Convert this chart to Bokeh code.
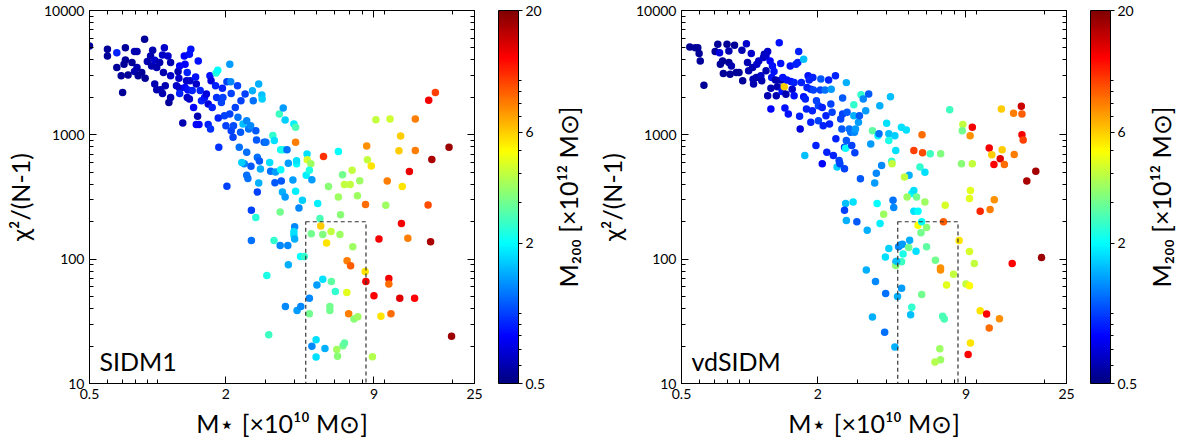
import math
from bokeh.plotting import figure
from bokeh.models import (ColumnDataSource, LogColorMapper, ColorBar, FixedTicker, LogAxis,
                          CustomJSTickFormatter, CustomLabelingPolicy, Label, Range1d)
from bokeh.layouts import row
from bokeh.embed import file_html
from bokeh.resources import INLINE

# ---------------- data ----------------
x_ticks = [0.5, 2, 9, 25]
x_minor = [0.6, 0.7, 0.8, 0.9, 1, 3, 4, 5, 6, 7, 8, 10, 20]
y_ticks = [10, 100, 1000, 10000]
y_minor = [20, 30, 40, 50, 60, 70, 80, 90, 200, 300, 400, 500, 600, 700, 800, 900,
           2000, 3000, 4000, 5000, 6000, 7000, 8000, 9000]
cb_ticks = [0.5, 2, 6, 20]
cb_minor = [0.6, 0.7, 0.8, 0.9, 1, 3, 4, 5, 7, 8, 9, 10]
box_x = [4.5, 8.3]
box_y = [10, 200]

sidm1_mstar = [0.50, 0.60, 0.60, 0.66, 0.66, 0.72, 0.72, 0.71, 0.69, 0.70, 0.77, 0.79, 0.81, 0.74, 0.79,
               0.81, 0.82, 0.875, 0.85, 0.88, 0.90, 0.93, 0.95, 0.94, 0.97, 0.97, 0.99, 0.99, 1.03, 1.02,
               1.05, 1.07, 1.06, 1.08, 1.05, 1.11, 1.12, 1.14, 1.14, 1.14, 1.21, 1.23, 1.25, 1.24, 1.25,
               1.25, 1.29, 1.31, 1.32, 1.35, 1.34, 1.32, 1.35, 1.36, 1.38, 1.40, 1.39, 1.38, 1.42, 1.44,
               1.47, 1.48, 1.51, 1.50, 1.48, 1.52, 1.54, 1.56, 1.61, 1.64, 1.67, 1.67, 1.71, 1.70, 1.72,
               1.74, 1.80, 1.81, 1.84, 1.82, 1.85, 1.86, 1.91, 1.93, 1.94, 1.97, 2.00, 2.02, 2.02, 2.08,
               2.10, 2.11, 2.08, 2.11, 2.15, 2.20, 2.16, 2.25, 2.26, 2.32, 2.29, 2.33, 2.38, 2.43, 2.47,
               2.47, 2.52, 2.57, 2.41, 2.35, 2.47, 2.50, 2.58, 2.62, 2.64, 2.71, 2.73, 2.75, 2.75, 2.59,
               2.59, 2.71, 2.79, 2.81, 2.84, 2.79, 2.88, 2.89, 2.95, 3.00, 3.12, 3.15, 3.22, 3.27, 3.29,
               3.31, 3.03, 3.09, 3.26, 3.47, 3.44, 3.49, 3.49, 3.58, 3.51, 3.55, 3.58, 3.65, 3.65, 3.72,
               3.77, 3.75, 3.47, 3.66, 3.77, 3.99, 4.06, 4.06, 3.95, 4.06, 4.10, 4.10, 3.99, 4.02, 3.99,
               4.02, 4.20, 4.27, 4.35, 4.43, 4.12, 4.28, 4.56, 4.57, 4.74, 4.52, 4.67, 4.67, 4.79, 4.76,
               4.67, 4.79, 5.08, 5.20, 5.24, 5.35, 5.39, 5.04, 5.35, 5.00, 5.00, 5.47, 5.56, 5.67, 5.82,
               5.84, 5.75, 5.75, 6.08, 6.27, 6.27, 6.37, 6.41, 6.54, 6.17, 6.22, 6.57, 6.67, 6.67, 6.83,
               6.85, 6.96, 7.07, 7.10, 7.21, 7.26, 7.35, 7.61, 7.64, 7.79, 8.23, 8.26, 8.29, 8.36, 8.42,
               8.76, 8.86, 9.00, 9.47, 9.18, 9.66, 10.15, 10.3, 10.47, 10.47, 10.6, 10.7, 11.6, 11.8, 11.9,
               11.7, 12.0, 12.7, 12.9, 13.7, 13.7, 13.6, 15.6, 15.7, 16.2, 16.0, 16.8, 19.3, 19.8]
sidm1_chi2 = [5180, 4870, 4300, 4580, 3475, 5020, 4000, 3700, 2980, 2190, 3810, 4670, 4670, 3030, 3230,
              3475, 2980, 5870, 3170, 2850, 3880, 4300, 4790, 3580, 3980, 2560, 3475, 2300, 2300, 3810,
              4380, 5020, 3170, 2480, 2150, 4300, 1820, 3810, 2000, 2980, 2480, 3230, 3580, 2850, 2370,
              2150, 1245, 4300, 3700, 3170, 2720, 2400, 2000, 2290, 4450, 4870, 2720, 1940, 2270, 1660,
              2920, 2560, 3930, 1410, 1210, 1210, 2270, 1880, 2000, 2130, 1770, 1210, 1115, 2980, 2720,
              1660, 2480, 3150, 3300, 2000, 1365, 795, 1820, 2370, 2000, 1425, 1185, 2670, 385, 3700,
              2670, 2150, 1470, 1080, 955, 1660, 1185, 2480, 1385, 1050, 795, 1880, 1220, 2130, 1300,
              725, 1115, 1185, 585, 600, 472, 445, 560, 2260, 1880, 1080, 910, 660, 347, 247,
              141, 216, 2560, 615, 532, 410, 2090, 1940, 870, 870, 600, 510, 990, 900, 412,
              502, 74, 24.7, 141, 240, 1470, 525, 757, 760, 425, 347, 1640, 1315, 316, 760,
              590, 129, 129, 41.7, 90, 1220, 1150, 870, 433, 352, 585, 620, 156, 182, 166,
              145, 258, 105, 298, 105, 38.6, 41.7, 701, 630, 585, 472, 518, 48.5, 436, 160,
              36.4, 19.9, 280, 212, 185, 158, 670, 62, 69, 22.5, 16.3, 19.1, 135, 384, 167,
              66, 41.7, 38.6, 55, 735, 316, 158, 228, 478, 18.8, 16.6, 20.1, 21.2, 399, 54,
              97, 36.4, 399, 88.7, 518, 126, 33, 324, 34.4, 428, 79.4, 275, 66, 815, 630,
              562, 16.4, 50.7, 145, 1325, 34.7, 271, 425, 70, 63, 1340, 36.4, 743, 980, 194,
              48.5, 384, 147, 508, 1340, 748, 48.5, 273, 1900, 634, 138, 2190, 795, 24]
sidm1_m200 = [0.55, 0.55, 0.55, 0.9, 0.55, 0.55, 0.55, 0.55, 0.55, 0.55, 0.55, 0.6, 0.6, 0.55, 0.6,
              0.6, 0.55, 0.55, 0.55, 0.55, 0.6, 0.6, 0.6, 0.6, 0.65, 0.6, 0.6, 0.6, 0.6, 0.6,
              0.65, 0.65, 0.6, 0.6, 0.6, 0.65, 0.55, 0.6, 0.6, 0.65, 0.65, 0.6, 0.8, 0.65, 0.65,
              0.9, 0.6, 0.8, 0.8, 0.9, 0.65, 0.8, 0.65, 0.85, 0.85, 0.85, 0.65, 0.65, 0.9, 0.8,
              0.85, 0.65, 0.85, 0.6, 0.8, 0.8, 0.9, 0.9, 0.85, 0.7, 0.7, 0.9, 0.95, 0.85, 0.7,
              0.9, 0.9, 2.3, 2.0, 0.95, 0.9, 0.95, 1.0, 0.9, 1.0, 1.0, 1.0, 1.0, 1.0, 1.4,
              1.3, 1.0, 1.0, 1.0, 1.0, 1.0, 1.05, 1.0, 1.2, 1.1, 1.2, 1.0, 1.6, 1.0, 1.3,
              1.2, 1.2, 1.3, 1.3, 1.7, 1.2, 1.2, 1.1, 1.5, 1.2, 1.1, 1.1, 1.2, 1.0, 1.0,
              1.2, 2.3, 1.5, 1.1, 1.5, 1.5, 1.6, 1.7, 1.1, 1.2, 1.8, 1.2, 2.4, 1.8, 1.1,
              1.4, 2.2, 2.5, 2.4, 3.0, 2.5, 2.0, 2.1, 2.2, 1.1, 1.5, 1.4, 1.7, 1.4, 1.2,
              1.4, 1.3, 1.3, 1.3, 1.5, 1.9, 2.6, 8.0, 1.4, 1.9, 2.0, 1.8, 1.8, 1.3, 1.8,
              1.5, 1.3, 2.0, 1.7, 2.4, 1.4, 1.3, 1.8, 4.3, 3.5, 1.9, 2.2, 1.3, 1.4, 3.0,
              3.0, 1.3, 1.9, 2.6, 6.0, 3.2, 10.5, 1.4, 1.8, 1.8, 1.8, 1.5, 5.5, 3.3, 4.0,
              2.8, 3.0, 3.0, 2.4, 2.0, 3.5, 3.5, 3.3, 3.0, 3.6, 3.3, 3.0, 2.8, 4.0, 4.5,
              8.0, 8.0, 4.0, 9.0, 4.0, 3.5, 3.3, 3.5, 3.5, 3.5, 5.5, 8.5, 13.0, 7.5, 4.0,
              5.5, 3.8, 12.5, 13.0, 4.0, 5.5, 3.5, 8.0, 13.0, 8.5, 4.2, 8.5, 6.0, 6.0, 13.0,
              14.0, 5.5, 8.0, 13.5, 8.0, 8.0, 12.5, 9.5, 13.0, 17.0, 17.0, 10.0, 18.0, 18.0]

vd_mstar = [0.544, 0.575, 0.59, 0.598, 0.605, 0.628, 0.704, 0.723, 0.736, 0.742, 0.759, 0.765, 0.794, 0.809,
            0.809, 0.819, 0.83, 0.857, 0.873, 0.897, 0.924, 0.931, 0.967, 0.978, 0.989, 1.016, 1.03, 1.035,
            1.04, 1.07, 1.075, 1.096, 1.12, 1.13, 1.15, 1.16, 1.18, 1.18, 1.20, 1.20, 1.23, 1.24, 1.24,
            1.25, 1.26, 1.28, 1.30, 1.31, 1.325, 1.35, 1.37, 1.375, 1.39, 1.40, 1.42, 1.43, 1.445, 1.46,
            1.48, 1.51, 1.52, 1.54, 1.57, 1.57, 1.60, 1.645, 1.63, 1.66, 1.67, 1.69, 1.73, 1.73, 1.75,
            1.76, 1.78, 1.79, 1.81, 1.83, 1.86, 1.86, 1.89, 1.90, 1.91, 1.96, 1.97, 2.01, 2.01, 2.05,
            2.06, 2.09, 2.09, 2.11, 2.15, 2.17, 2.19, 2.23, 2.25, 2.28, 2.29, 2.31, 2.34, 2.39, 2.40,
            2.43, 2.48, 2.50, 2.52, 2.55, 2.57, 2.57, 2.62, 2.62, 2.65, 2.67, 2.67, 2.69, 2.75, 2.79,
            2.82, 2.88, 2.88, 2.91, 2.90, 2.93, 3.02, 3.05, 3.08, 3.10, 3.17, 3.25, 3.35, 3.42, 3.48,
            3.62, 3.56, 3.68, 3.72, 3.75, 3.82, 4.02, 4.11, 4.11, 4.18, 4.23, 4.25, 4.37, 4.41, 4.67,
            4.91, 5.05, 4.82, 5.30, 5.76, 5.79, 6.26, 6.96, 5.64, 5.93, 7.63, 8.6, 8.72, 8.67, 9.39,
            9.6, 9.6, 11.4, 11.7, 11.96, 12.75, 13.0, 13.3, 12.9, 14.6, 14.7, 15.8, 15.9, 15.9, 16.1,
            16.7, 18.3, 19.4, 14.4, 2.65, 2.62, 2.67, 2.97, 2.86, 3.30, 3.65, 3.76, 3.90, 4.29, 4.32,
            4.54, 4.63, 4.72, 4.11, 3.97, 4.75, 5.03, 4.42, 4.68, 4.41, 5.19, 5.30, 5.45, 4.95, 5.08,
            5.30, 5.53, 5.53, 5.74, 5.70, 6.03, 5.93, 6.03, 5.42, 7.16, 7.29, 8.4, 9.42, 9.33, 10.4,
            11.5, 12.0, 6.6, 6.95, 6.95, 7.93, 7.39, 9.0, 9.33, 9.33, 9.8, 5.74, 5.19, 5.13, 7.1,
            7.22, 10.4, 11.1, 11.4, 12.65, 9.42, 9.2, 6.9, 6.95, 6.57, 4.68, 4.49, 4.45, 3.59, 3.98,
            3.27, 3.48, 3.94, 4.37]
vd_chi2 = [5080, 5020, 5020, 4500, 3930, 2510, 4670, 5350, 4580, 3700, 3930, 3110, 5350, 4720,
           3810, 3070, 3580, 5250, 3170, 3170, 4790, 2720, 5410, 3810, 3270, 4500, 3475, 2800,
           2560, 2890, 3700, 3930, 2980, 2720, 4180, 4450, 4300, 3270, 4670, 2060, 3930, 2370, 1610,
           2890, 3580, 3230, 2760, 2060, 2440, 5510, 3740, 2760, 2230, 2890, 2440, 1640, 2120, 2760,
           1470, 3580, 2690, 2330, 2630, 2060, 3700, 4670, 3810, 1410, 1115, 2630, 4060, 2020, 682,
           1940, 1610, 2400, 2980, 2760, 1260, 2330, 1565, 2890, 2290, 820, 1880, 1300, 1715, 2290,
           2810, 1660, 585, 1185, 2290, 1425, 725, 2760, 1220, 1770, 2330, 1520, 682, 2980, 928,
           551, 622, 585, 1340, 1115, 1470, 1980, 533, 795, 780, 2630, 900, 1520, 1115, 1050,
           820, 1425, 1745, 716, 1050, 1115, 1260, 1425, 444, 2100, 1940, 1565, 2130, 845, 1080,
           492, 410, 985, 1020, 1715, 567, 1240, 1020, 900, 2020, 614, 585, 985, 748, 1150,
           1095, 472, 457, 748, 1000, 716, 703, 703, 550, 500, 1590, 585, 1210, 1080, 985,
           1150, 585, 785, 690, 578, 641, 757, 578, 1610, 1490, 695, 1700, 1470, 1000, 910,
           425, 510, 103, 92.5, 280, 247, 205, 200, 288, 171, 280, 194, 230, 298, 260,
           126, 130, 132, 122, 104, 110, 124, 95.5, 95.5, 89, 337, 357, 316, 316, 142,
           243, 243, 187, 200, 163, 180, 288, 126, 116, 200, 271, 141, 357, 307, 243,
           251, 301, 98, 85, 82, 75.5, 62, 63, 61, 115, 92.5, 52, 41, 35.7, 34.7,
           33, 38.5, 36.2, 27.9, 33.2, 21.2, 17.1, 19.0, 15.5, 14.9, 58.3, 50, 96, 66, 53,
           81.9, 34.2, 25.8, 19.7]
vd_m200 = [0.55, 0.55, 0.55, 0.55, 0.55, 0.55, 0.55, 0.55, 0.7, 0.55, 0.55, 0.55, 0.55, 0.6,
           0.55, 0.55, 0.6, 0.55, 0.55, 0.55, 0.6, 0.55, 0.65, 0.6, 0.6, 0.65, 0.6, 0.6,
           0.6, 0.6, 0.65, 0.65, 0.65, 0.6, 0.65, 0.6, 0.65, 0.6, 0.65, 0.6, 0.8, 0.6, 0.8,
           0.85, 0.85, 0.85, 0.6, 0.6, 0.6, 0.85, 0.85, 0.6, 0.85, 0.85, 6.0, 0.85, 0.6, 0.85,
           0.85, 0.85, 0.85, 0.65, 0.9, 0.85, 0.9, 0.9, 0.9, 0.9, 0.7, 0.9, 1.6, 0.85, 1.6,
           0.9, 0.9, 0.9, 0.85, 0.9, 0.9, 0.9, 0.9, 0.9, 1.0, 0.9, 1.0, 1.0, 1.0, 1.0,
           1.1, 0.9, 0.8, 0.9, 1.2, 0.9, 0.9, 0.9, 0.9, 1.0, 1.4, 1.0, 0.9, 0.9, 0.9,
           1.7, 1.0, 1.0, 1.0, 1.1, 1.0, 1.1, 1.0, 1.0, 2.0, 1.5, 1.1, 1.1, 1.2, 1.2,
           1.0, 1.5, 2.4, 1.0, 1.3, 1.4, 1.4, 1.1, 1.1, 2.4, 1.3, 1.4, 1.1, 1.4, 2.8,
           1.3, 1.4, 2.0, 1.2, 1.5, 1.3, 1.8, 1.6, 2.2, 1.6, 2.4, 4.0, 1.7, 1.8, 1.8,
           1.8, 1.5, 4.0, 10.0, 8.5, 9.5, 2.5, 3.2, 2.4, 1.8, 2.5, 3.3, 4.0, 3.0, 7.5,
           13.0, 4.0, 13.0, 6.0, 12.5, 14.0, 6.0, 8.5, 6.0, 8.0, 8.0, 15.0, 9.0, 13.0, 10.0,
           17.0, 17.5, 18.0, 12.5, 1.6, 1.0, 1.5, 1.1, 1.8, 1.5, 2.0, 1.9, 3.5, 1.2, 1.3,
           1.3, 1.3, 1.4, 1.7, 1.8, 2.2, 3.0, 1.4, 2.5, 3.3, 2.0, 1.8, 3.0, 3.5, 1.5,
           1.8, 2.0, 5.0, 2.0, 3.0, 3.3, 3.5, 2.8, 1.8, 9.0, 4.3, 5.5, 4.5, 4.5, 11.0,
           8.0, 7.5, 3.0, 7.5, 7.5, 4.0, 4.5, 4.0, 5.0, 4.3, 4.0, 3.0, 2.4, 1.6, 2.6,
           2.6, 5.5, 12.5, 8.5, 7.5, 5.5, 12.5, 3.5, 3.5, 3.8, 1.4, 1.5, 1.6, 1.3, 1.2,
           1.5, 1.5, 1.2, 1.5]

# ---------------- styling helpers ----------------
FONT = "Lato"
CB_LABEL = "M\u2082\u2080\u2080 [\u00d710\u00b9\u00b2 M\u2299]"


def jet_palette(n=256):
    cols = []
    for i in range(n):
        t = i / (n - 1)
        r = min(max(1.5 - abs(4 * t - 3), 0), 1)
        g = min(max(1.5 - abs(4 * t - 2), 0), 1)
        b = min(max(1.5 - abs(4 * t - 1), 0), 1)
        cols.append("#%02x%02x%02x" % (round(r * 255), round(g * 255), round(b * 255)))
    return cols


JET = jet_palette()
FMT = "return String(tick)"


def style_axis(ax, ticks, minor, show_labels=True, standoff=5):
    ax.ticker = FixedTicker(ticks=ticks, minor_ticks=minor)
    ax.major_tick_in = 7
    ax.major_tick_out = 0
    ax.minor_tick_in = 4
    ax.minor_tick_out = 0
    ax.axis_line_color = "black"
    ax.major_tick_line_color = "black"
    ax.minor_tick_line_color = "black"
    ax.major_label_text_font = FONT
    ax.major_label_text_color = "black"
    ax.major_label_standoff = standoff
    if show_labels:
        ax.formatter = CustomJSTickFormatter(code=FMT)
        ax.major_label_text_font_size = "14px"
    else:
        ax.formatter = CustomJSTickFormatter(code="return ''")
        ax.major_label_text_font_size = "1px"
        ax.major_label_policy = CustomLabelingPolicy(code="for (const i of indices) indices.unset(i)")
    ax.axis_label_text_font = FONT
    ax.axis_label_text_font_style = "normal"
    ax.axis_label_text_font_size = "25px"
    ax.axis_label_text_color = "black"


def make_panel(mstar, chi2, m200, name, width, left_border, right_border):
    p = figure(width=width, height=446, x_axis_type="log", y_axis_type="log",
               x_range=Range1d(0.5, 25), y_range=Range1d(10, 10000),
               output_backend="svg", toolbar_location=None,
               min_border_left=left_border, min_border_right=right_border,
               min_border_top=10, min_border_bottom=63)
    p.grid.visible = False
    p.outline_line_color = "black"
    p.background_fill_color = "white"
    p.border_fill_color = "white"

    style_axis(p.xaxis[0], x_ticks, x_minor)
    style_axis(p.yaxis[0], y_ticks, y_minor)
    p.xaxis[0].axis_label = "M\u22c6 [\u00d710\u00b9\u2070 M\u2299]"
    p.yaxis[0].axis_label = "\u03c7\u00b2/(N-1)"
    p.xaxis[0].axis_label_standoff = 6
    p.yaxis[0].axis_label_standoff = 6

    top = LogAxis()
    style_axis(top, x_ticks, x_minor, show_labels=False, standoff=0)
    p.add_layout(top, "above")
    right = LogAxis()
    style_axis(right, y_ticks, y_minor, show_labels=False, standoff=0)
    p.add_layout(right, "right")

    mapper = LogColorMapper(palette=JET, low=0.5, high=20)
    src = ColumnDataSource(dict(x=mstar, y=chi2, c=m200))
    p.scatter("x", "y", source=src, size=7.5,
              fill_color={"field": "c", "transform": mapper}, line_color=None)

    p.quad(left=[box_x[0]], right=[box_x[1]], bottom=[box_y[0]], top=[box_y[1]],
           fill_color=None, line_color="#333333", line_dash="4 3", line_width=1.2)

    p.add_layout(Label(x=10, y=8, x_units="screen", y_units="screen", text=name,
                       text_font=FONT, text_font_size="25px", text_color="black"))

    cb = ColorBar(color_mapper=mapper, width=20, height=373, padding=0, margin=0,
                  location=(24, 0),
                  ticker=FixedTicker(ticks=cb_ticks, minor_ticks=cb_minor),
                  formatter=CustomJSTickFormatter(code=FMT),
                  major_tick_in=0, major_tick_out=4, minor_tick_in=0, minor_tick_out=3,
                  major_tick_line_color="black", minor_tick_line_color="black",
                  label_standoff=3, major_label_text_font=FONT,
                  major_label_text_font_size="14px", major_label_text_color="black",
                  bar_line_color="black", bar_line_width=1, border_line_color=None,
                  background_fill_color=None)
    p.add_layout(cb, "right")
    return p


def make_cb_label(width):
    q = figure(width=width, height=446, x_range=Range1d(0, 1), y_range=Range1d(0, 1),
               output_backend="svg", toolbar_location=None, x_axis_location=None,
               min_border_left=width - 1, min_border_right=0,
               min_border_top=10, min_border_bottom=63)
    q.grid.visible = False
    q.outline_line_color = None
    q.background_fill_color = None
    q.border_fill_color = "white"
    ax = q.yaxis[0]
    ax.ticker = FixedTicker(ticks=[])
    ax.axis_line_color = None
    ax.major_tick_in = 0
    ax.major_tick_out = 0
    ax.minor_tick_in = 0
    ax.minor_tick_out = 0
    ax.major_label_standoff = 0
    ax.axis_label = CB_LABEL
    ax.axis_label_standoff = 8
    ax.axis_label_text_font = FONT
    ax.axis_label_text_font_style = "normal"
    ax.axis_label_text_font_size = "25px"
    ax.axis_label_text_color = "black"
    return q


p1 = make_panel(sidm1_mstar, sidm1_chi2, sidm1_m200, "SIDM1", 548, 89, 74)
c1 = make_cb_label(43)
p2 = make_panel(vd_mstar, vd_chi2, vd_m200, "vdSIDM", 549, 90, 74)
c2 = make_cb_label(44)
layout = row(p1, c1, p2, c2)

open("out.html", "w").write(file_html(layout, INLINE))
